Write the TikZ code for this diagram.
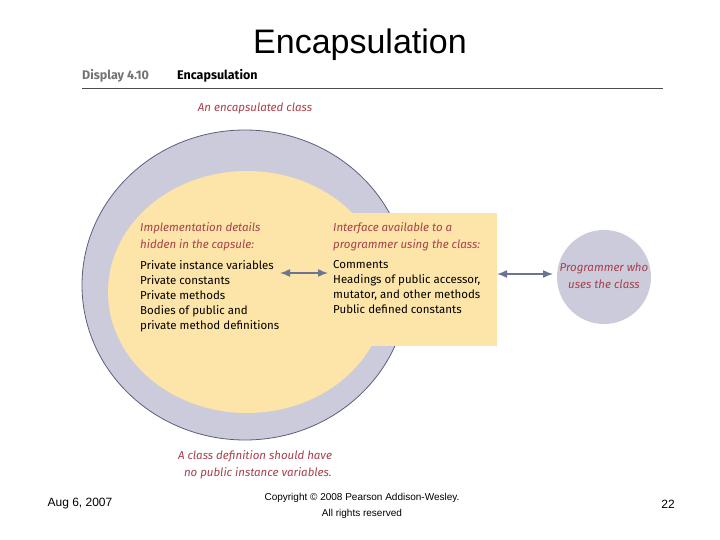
\documentclass[tikz,border=0pt]{standalone}
\usepackage{fontspec}
\usetikzlibrary{arrows.meta}
\setmainfont{Liberation Sans}
\newfontfamily\fira{Fira Sans}
\definecolor{ring}{HTML}{CBCBDB}
\definecolor{ringedge}{HTML}{5A5F80}
\definecolor{cream}{HTML}{FDE4A8}
\definecolor{redt}{HTML}{A8404C}
\definecolor{arr}{HTML}{6A7590}
\begin{document}
\begin{tikzpicture}[x=1pt,y=-1pt,
  note/.style={font=\fira\itshape\fontsize{11.5}{17}\selectfont,text=redt,align=left,inner sep=0},
  body/.style={font=\fira\fontsize{11.5}{15}\selectfont,align=left,inner sep=0},
  link/.style={arr,line width=1.5pt,{Latex[length=10pt,width=8pt]}-{Latex[length=10pt,width=8pt]}}]
\useasboundingbox (0,0) rectangle (720,540);
\fill[white] (0,0) rectangle (720,540);
\node[font=\fontsize{34}{36}\selectfont] (title) at (360,45) {Encapsulation};
\node[anchor=west,font=\fira\bfseries\fontsize{12.5}{14}\selectfont,text=black!55,inner sep=0] (disp) at (82,76) {Display 4.10};
\node[anchor=west,font=\fira\bfseries\fontsize{12.5}{14}\selectfont,inner sep=0] (enc) at (177,76) {Encapsulation};
\draw[black!70,line width=1pt] (82,89) -- (663,89);
\node[note] (top) at (255,108) {An encapsulated class};
% big ring
\fill[ring,draw=ringedge,line width=0.8pt] (245,285) ellipse [x radius=163,y radius=155];
\fill[cream] (247,292) ellipse [x radius=139,y radius=121];
\fill[cream] (300,213) rectangle (497,346);
% small circle
\fill[ring] (604,277) circle (47);
\node[note,align=center] (prog) at (604,276) {Programmer who\\uses the class};
\node[note,anchor=north west] (impl) at (140,222) {Implementation details\\hidden in the capsule:};
\node[body,anchor=north west] (priv) at (140,260) {Private instance variables\\Private constants\\Private methods\\Bodies of public and\\private method definitions};
\node[note,anchor=north west] (intf) at (333,222) {Interface available to a\\programmer using the class:};
\node[body,anchor=north west] (pub) at (333,260) {Comments\\Headings of public accessor,\\mutator, and other methods\\Public defined constants};
\coordinate (a1) at (280,273);
\coordinate (a2) at (328,273);
\coordinate (b1) at (497,274);
\coordinate (b2) at (553,274);
\draw[link] (a1) -- (a2);
\draw[link] (b1) -- (b2);
\node[note,align=left] (bot) at (255,465) {A class definition should have\\\ \ no public instance variables.};
\node[font=\fontsize{12}{14}\selectfont] (date) at (80,504) {Aug 6, 2007};
\node[font=\fontsize{10}{16}\selectfont,align=center] (copy) at (362,506) {Copyright © 2008 Pearson Addison-Wesley.\\All rights reserved};
\node[font=\fontsize{12}{14}\selectfont] (num) at (668,504) {22};
\end{tikzpicture}
\end{document}
